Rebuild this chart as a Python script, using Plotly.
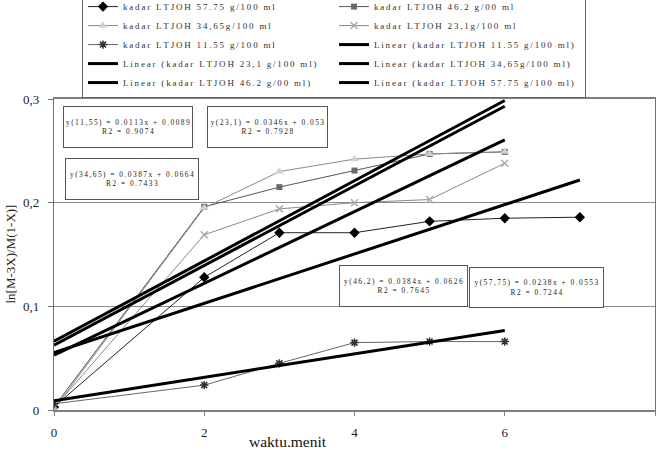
import plotly.graph_objects as go

# ---------------- data ----------------
x_time = [0, 2, 3, 4, 5, 6]
x_time_long = [0, 2, 3, 4, 5, 6, 7]

y_5775 = [0.003, 0.128, 0.171, 0.171, 0.182, 0.185, 0.186]
y_462 = [0.003, 0.196, 0.215, 0.231, 0.247, 0.249]
y_3465 = [0.001, 0.195, 0.230, 0.242, 0.247, 0.249]
y_231 = [0.002, 0.169, 0.194, 0.200, 0.203, 0.238]
y_1155 = [0.006, 0.024, 0.045, 0.065, 0.066, 0.066]

# trendline equations (slope, intercept, R2) as printed on the chart
trend_names = ["11,55", "23,1", "34,65", "46,2", "57,75"]
trend_slope = [0.0113, 0.0346, 0.0387, 0.0384, 0.0238]
trend_icpt = [0.0089, 0.053, 0.0664, 0.0626, 0.0553]
trend_r2 = ["0.9074", "0.7928", "0.7433", "0.7645", "0.7244"]

series_labels = [
    "kadar LTJOH 57.75 g/100 ml",
    "kadar LTJOH 46.2 g/00 ml",
    "kadar LTJOH 34,65g/100 ml",
    "kadar LTJOH 23,1g/100 ml",
    "kadar LTJOH 11.55 g/100 ml",
]
linear_labels = [
    "Linear (kadar LTJOH 11.55 g/100 ml)",
    "Linear (kadar LTJOH 23,1 g/100 ml)",
    "Linear (kadar LTJOH 34,65g/100 ml)",
    "Linear (kadar LTJOH 46.2 g/00 ml)",
    "Linear (kadar LTJOH 57.75 g/100 ml)",
]

x_ticks = [0, 2, 4, 6, 8]
y_ticks = [0, 0.1, 0.2, 0.3]

SERIF = "Liberation Serif"


def spaced(s):
    """imitate the wide character spacing of the original chart"""
    return "\u2009".join(list(s))


fig = go.Figure()

# data series
series = [
    (x_time_long, y_5775, dict(symbol="diamond", size=8, color="#000000"), "#222222"),
    (x_time, y_462, dict(symbol="square", size=6, color="#6a6a6a"), "#555555"),
    (x_time, y_3465, dict(symbol="triangle-up", size=8, color="#d0d0d0"), "#8a8a8a"),
    (x_time, y_231, dict(symbol="x-thin-open", size=7, color="#aaaaaa",
                          line=dict(width=1.5, color="#aaaaaa")), "#8a8a8a"),
    (x_time, y_1155, dict(symbol="asterisk-open", size=7, color="#333333",
                           line=dict(width=1.5, color="#333333")), "#666666"),
]
for (xs, ys, mk, lc), name in zip(series, series_labels):
    fig.add_trace(go.Scatter(
        x=xs, y=ys, mode="lines+markers", name=spaced(name),
        line=dict(color=lc, width=1), marker=mk,
    ))

# linear trendlines (order as in the legend: 11.55, 23.1, 34.65, 46.2, 57.75)
trend_x = [x_time, x_time, x_time, x_time, x_time_long]
for i, name in enumerate(linear_labels):
    xs = [min(trend_x[i]), max(trend_x[i])]
    ys = [trend_slope[i] * v + trend_icpt[i] for v in xs]
    fig.add_trace(go.Scatter(
        x=xs, y=ys, mode="lines", name=spaced(name),
        line=dict(color="#000000", width=3),
    ))

# equation boxes (centre x, centre y in data units, width, height in px)
box_pos = [
    (0.985, 0.273, 128, 40),
    (2.842, 0.273, 119, 40),
    (1.038, 0.2228, 132, 40),
    (4.652, 0.1196, 127, 40),
    (6.423, 0.1180, 133, 39),
]
for i, (bx, by, bw, bh) in enumerate(box_pos):
    txt = (spaced(f"y({trend_names[i]}) = {trend_slope[i]}x + {trend_icpt[i]}")
           + "<br>" + spaced(f"R2 = {trend_r2[i]}"))
    fig.add_annotation(
        x=bx, y=by, xref="x", yref="y", text=txt, showarrow=False,
        width=bw, height=bh, borderpad=0, borderwidth=1, bordercolor="#555555",
        bgcolor="#ffffff", align="center", valign="middle",
        font=dict(family=SERIF, size=7.4, color="#222222"),
    )

# axis titles
fig.add_annotation(
    x=0, y=0.5, xref="paper", yref="paper", xanchor="center", yanchor="middle",
    xshift=-44, textangle=-90,
    text="ln[M-3X)/M(1-X)]", showarrow=False,
    font=dict(family=SERIF, size=13, color="#222222"),
)
fig.add_annotation(
    x=3.12, y=0, xref="x", yref="paper", xanchor="center", yanchor="middle",
    yshift=-31,
    text="waktu.menit", showarrow=False,
    font=dict(family=SERIF, size=15.5, color="#111111"),
)

fig.update_layout(
    width=658, height=450, autosize=False,
    margin=dict(l=54, r=3, t=99, b=40, autoexpand=False),
    paper_bgcolor="#ffffff", plot_bgcolor="#ffffff",
    separators=",.",
    font=dict(family=SERIF, size=13, color="#222222"),
    legend=dict(
        orientation="h", x=0.0466, xanchor="left", y=1.347, yanchor="top",
        entrywidth=206, itemwidth=30,
        font=dict(family=SERIF, size=9, color="#333333"),
        bordercolor="#666666", borderwidth=1, bgcolor="#ffffff",
        traceorder="normal",
    ),
    xaxis=dict(
        range=[0, 8], tickvals=x_ticks, showgrid=False, zeroline=False,
        showline=True, linecolor="#808080", linewidth=1.5, mirror=True,
        ticks="outside", ticklen=4, tickcolor="#808080", ticklabelstandoff=6,
        tickfont=dict(family=SERIF, size=13, color="#222222"),
    ),
    yaxis=dict(
        range=[0, 0.3], tickvals=y_ticks, showgrid=True, gridcolor="#8c8c8c",
        gridwidth=1, zeroline=False,
        showline=True, linecolor="#707070", linewidth=1.2, mirror=True,
        ticks="outside", ticklen=5, tickcolor="#707070", ticklabelstandoff=6,
        tickfont=dict(family=SERIF, size=13, color="#222222"),
    ),
)

fig.write_html("out.html")
